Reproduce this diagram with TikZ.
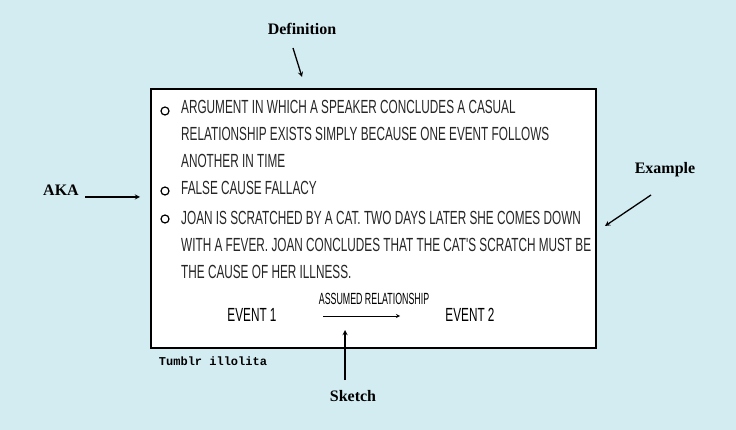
\documentclass[tikz,border=0pt]{standalone}
\usepackage{fontspec}
\usetikzlibrary{positioning}
\newfontfamily\handfont{Liberation Sans}
\newfontfamily\labelfont{Liberation Serif}
\newfontfamily\signfont{Liberation Mono}
\definecolor{skyback}{HTML}{D3ECF2}
\newcommand{\hand}[1]{\scalebox{0.62}[1]{\handfont\fontsize{19}{19}\selectfont #1}}
\tikzset{
  line/.style={anchor=west, inner sep=0pt, text=black!85},
  tag/.style={font=\labelfont\bfseries\fontsize{16}{16}\selectfont},
  bullet/.style={circle, draw=black, line width=1.2pt, minimum size=8pt, inner sep=0pt},
  pointer/.style={->, >=stealth, line width=1.3pt}
}
\begin{document}
\begin{tikzpicture}[x=1pt, y=-1pt]
  \fill[skyback] (0,0) rectangle (736,430);
  \useasboundingbox (0,0) rectangle (736,430);
  \node[draw=black, line width=2pt, minimum width=445pt, minimum height=259pt, anchor=north west, fill=white] (card) at (150,88) {};
  \node[bullet] (b1) at (165,111) {};
  \node[bullet] (b2) at (165,191) {};
  \node[bullet] (b3) at (165,219) {};
  \node[line] (l1) at (181,107) {\hand{ARGUMENT IN WHICH A SPEAKER CONCLUDES A CASUAL}};
  \node[line] (l2) at (181,134) {\hand{RELATIONSHIP EXISTS SIMPLY BECAUSE ONE EVENT FOLLOWS}};
  \node[line] (l3) at (181,161) {\hand{ANOTHER IN TIME}};
  \node[line] (l4) at (181,188) {\hand{FALSE CAUSE FALLACY}};
  \node[line] (l5) at (181,218) {\hand{JOAN IS SCRATCHED BY A CAT. TWO DAYS LATER SHE COMES DOWN}};
  \node[line] (l6) at (181,245) {\hand{WITH A FEVER. JOAN CONCLUDES THAT THE CAT'S SCRATCH MUST BE}};
  \node[line] (l7) at (181,272) {\hand{THE CAUSE OF HER ILLNESS.}};
  \node[inner sep=0pt] (ev1) at (252,315) {\hand{EVENT 1}};
  \node[inner sep=0pt] (ev2) at (470,315) {\hand{EVENT 2}};
  \node[inner sep=0pt] (assumed) at (374,299) {\scalebox{0.75}[0.85]{\hand{ASSUMED RELATIONSHIP}}};
  \coordinate (rs) at (323,316);
  \coordinate (re) at (400,316);
  \draw[->, >=stealth, line width=0.8pt] (rs) -- (re);
  \node[font=\signfont\bfseries\fontsize{12}{12}\selectfont] (sign) at (213,361) {Tumblr illolita};
  % outside labels
  \node[tag] (defn) at (302,29) {Definition};
  \node[tag] (aka) at (61,190) {AKA};
  \node[tag] (example) at (665,170) {Example};
  \node[tag] (sketch) at (353,396) {Sketch};
  \coordinate (defn-tip) at (302,77);
  \coordinate (aka-tip) at (140,197);
  \coordinate (example-tip) at (605,226);
  \coordinate (sketch-tip) at (345,330);
  \draw[pointer] (293,48) -- (defn-tip);
  \draw[pointer] (85,197) -- (aka-tip);
  \draw[pointer] (651,195) -- (example-tip);
  \draw[pointer] (345,380) -- (sketch-tip);
\end{tikzpicture}
\end{document}
